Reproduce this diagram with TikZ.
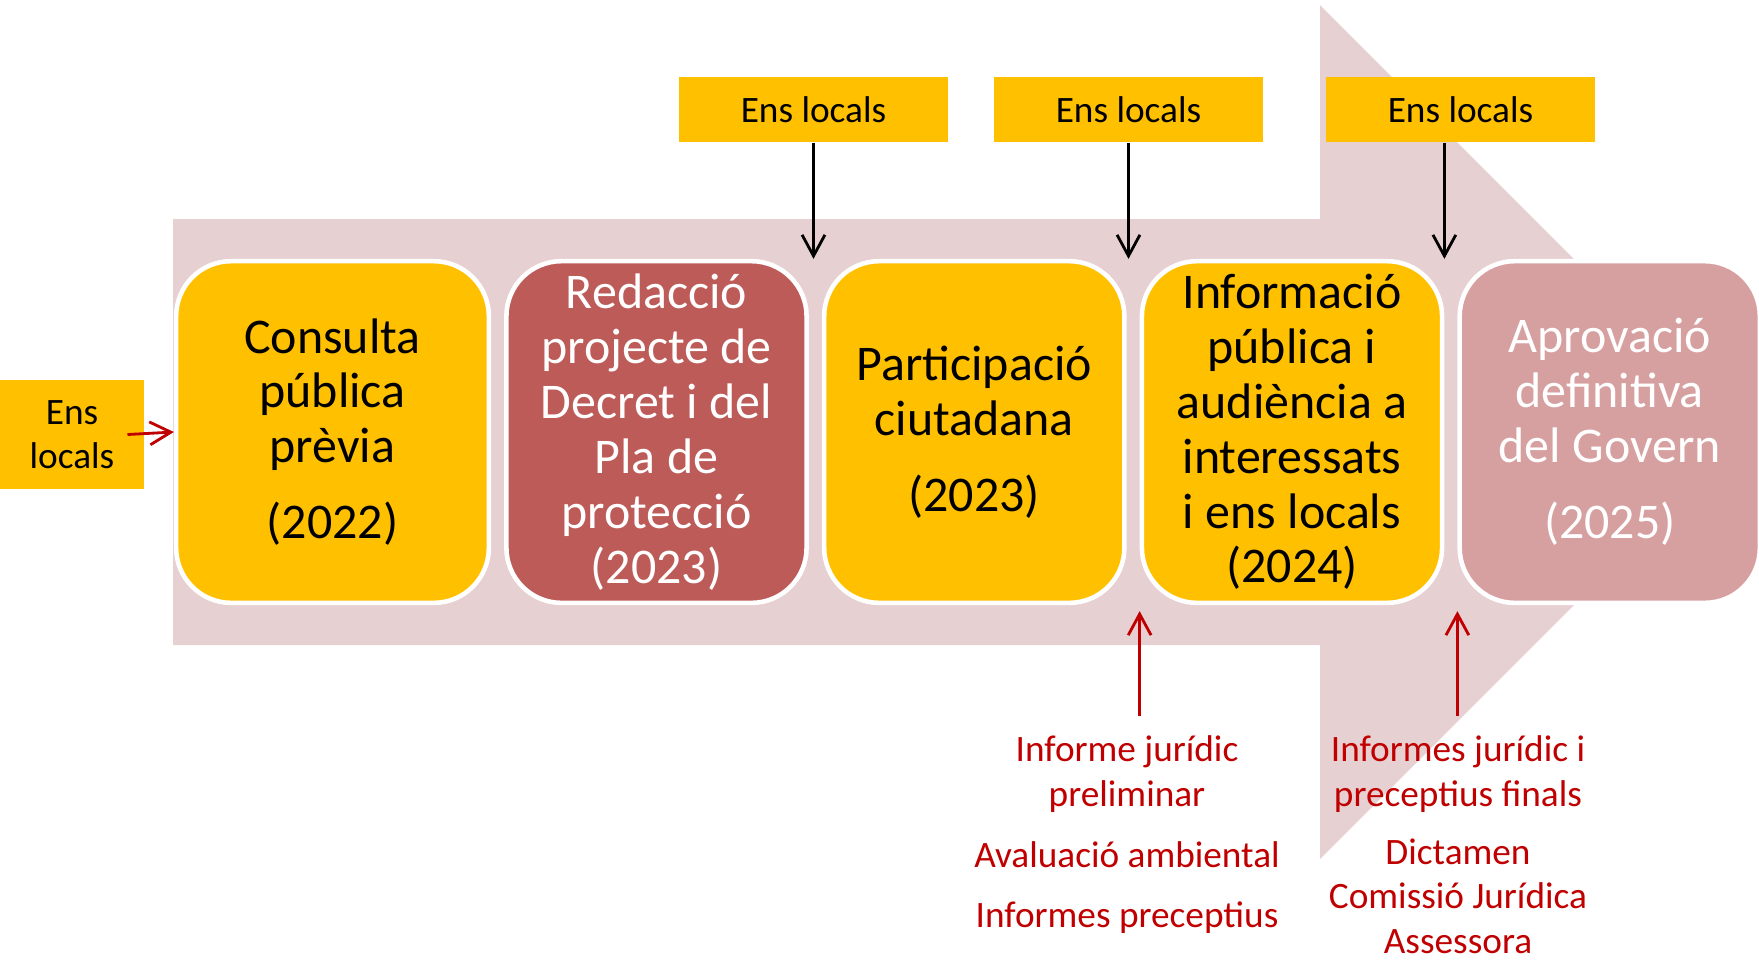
\documentclass[tikz,border=0pt]{standalone}
\usepackage{fontspec}
\setmainfont{Carlito}
\usetikzlibrary{positioning,arrows.meta}
\definecolor{ensyellow}{HTML}{FFC000}
\definecolor{redaccio}{HTML}{BC5B58}
\definecolor{aprovacio}{HTML}{D7A0A0}
\definecolor{fletxa}{HTML}{E7D0D1}
\definecolor{informe}{HTML}{C00000}

\begin{document}
\begin{tikzpicture}[x=0.01cm, y=-0.01cm,
        stepbox/.style={draw=white, line width=1.3pt, rounded corners=0.55cm, minimum width=3cm, minimum height=3.415cm, inner sep=0pt, align=center, font=\fontsize{14.2}{15.6}\selectfont},
        ensbox/.style={fill=ensyellow, minimum width=2.69cm, minimum height=0.65cm, inner sep=0pt, align=center, font=\fontsize{10.6}{12.4}\selectfont},
        nota/.style={text=informe, inner sep=0pt, align=center, font=\fontsize{10.6}{12.6}\selectfont},
        blackarrow/.style={draw, line width=0.8pt, -{Straight Barb[length=6pt, width=6.5pt]}},
        redarrow/.style={draw=informe, line width=0.8pt, -{Straight Barb[length=6pt, width=6.5pt]}}
    ]
        \useasboundingbox (0,0) rectangle (1759,959);

        % Background arrow
        \fill[fletxa] (173,219) -- (1320,219) -- (1320,5) -- (1747,432) -- (1320,859) -- (1320,645) -- (173,645) -- cycle;

        % Nodes
        \node[stepbox, fill=ensyellow, minimum width=3.125cm] (s1) at (332.5,432) {Consulta\\pública\\prèvia\\[6pt](2022)};
        \node[stepbox, fill=redaccio, text=white, right=0.13cm of s1] (s2) {Redacció\\projecte de\\Decret i del\\Pla de\\protecció\\(2023)};
        \node[stepbox, fill=ensyellow, right=0.13cm of s2] (s3) {Participació\\ciutadana\\[6pt](2023)};
        \node[stepbox, fill=ensyellow, right=0.13cm of s3] (s4) {Informació\\pública i\\audiència a\\interessats\\i ens locals\\(2024)};
        \node[stepbox, fill=aprovacio, text=white, right=0.13cm of s4] (s5) {Aprovació\\definitiva\\del Govern\\[6pt](2025)};

        \node[ensbox, minimum width=1.435cm, minimum height=1.09cm] (e0) at (72,434.5) {Ens\\locals};
        \node[ensbox] (t1) at (813.5,109.5) {Ens locals};
        \node[ensbox] (t2) at (1128.5,109.5) {Ens locals};
        \node[ensbox] (t3) at (1460.5,109.5) {Ens locals};

        \node[nota] (n1) at (1127,774) {Informe jurídic\\preliminar};
        \node[nota, anchor=base] (n2) at (1127,867) {Avaluació ambiental};
        \node[nota, anchor=base] (n3) at (1127,927) {Informes preceptius};
        \node[nota] (m1) at (1458,774) {Informes jurídic i\\preceptius finals};
        \node[nota] (m2) at (1458,896) {Dictamen\\Comissió Jurídica\\Assessora};

        % Edges
        \draw[blackarrow] (t1.south) -- (t1.south |- s3.north);
        \draw[blackarrow] (t2.south) -- (t2.south |- s4.north);
        \draw[blackarrow] (s4.north east |- t3.south) -- (s4.north east);
        \draw[redarrow] ([xshift=-0.17cm]e0.east) -- (s1.west);
        \draw[redarrow, shorten <=5.6pt, shorten >=1.7pt] (s4.south west |- n1.north) -- (s4.south west);
        \draw[redarrow, shorten <=5.6pt, shorten >=1.7pt] (s5.south west |- m1.north) -- (s5.south west);
    \end{tikzpicture}
\end{document}
